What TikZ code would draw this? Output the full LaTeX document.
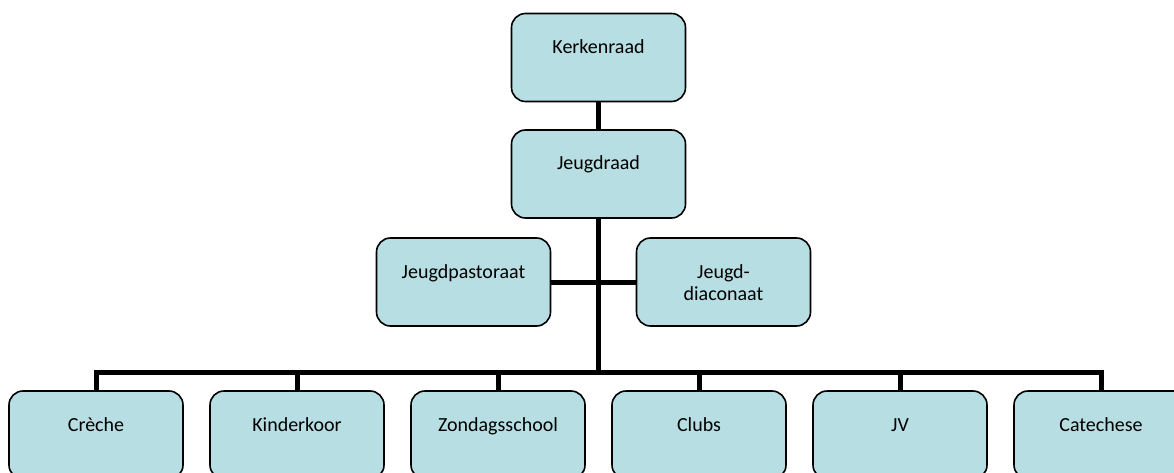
\documentclass[tikz,border=0pt]{standalone}
\usepackage{fontspec}
\setmainfont{Carlito}
\usepackage{tikz}
\usetikzlibrary{positioning}
\definecolor{boxblue}{HTML}{B7DEE2}

\begin{document}
\begin{tikzpicture}[x=1pt,y=-1pt,
    unit/.style={draw=black,line width=1.6pt,fill=boxblue,rounded corners=14pt,
      minimum width=174pt,minimum height=88pt,inner sep=0pt,
      text height=40pt,text depth=48pt,align=center,
      font=\fontsize{20}{22}\selectfont},
    link/.style={line width=5pt}]
  \useasboundingbox (0,0) rectangle (1174,473);
  \clip (0,0) rectangle (1174,473);
  \node[unit] (kerkenraad) at (598.5,57.5) {Kerkenraad};
  \node[unit] (jeugdraad) at (598.5,174) {Jeugdraad};
  \node[unit] (pastoraat) at (463.5,282) {Jeugdpastoraat};
  \node[unit,text height=62pt,text depth=26pt] (diaconaat) at (723.5,282) {Jeugd-\\diaconaat};
  \foreach \name/\txt [count=\i from 0] in {creche/Crèche,kinderkoor/Kinderkoor,
      zondagsschool/Zondagsschool,clubs/Clubs,jv/JV,catechese/Catechese}
    \node[unit] (\name) at (96+201*\i,435) {\txt};
  \coordinate (bus) at (598.5,372);
  % lijnen
  \draw[link] (kerkenraad) -- (jeugdraad);
  \draw[link] (jeugdraad.south) -- (bus);
  \draw[link] (pastoraat.east) -- (diaconaat.west);
  \foreach \name in {creche,kinderkoor,zondagsschool,clubs,jv,catechese}
    \draw[link] (bus) -| (\name.north);
\end{tikzpicture}
\end{document}
